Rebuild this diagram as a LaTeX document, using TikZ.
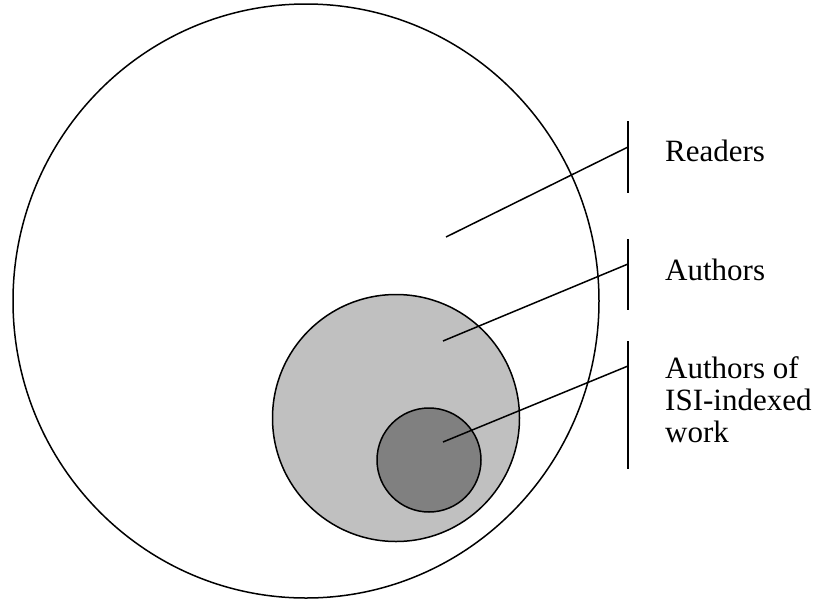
\documentclass[tikz,border=0pt]{standalone}
\usepackage{fontspec}
\setmainfont{Liberation Serif}
\usepackage{tikz}
\usetikzlibrary{shapes.geometric}

\definecolor{authgray}{HTML}{C0C0C0}
\definecolor{isigray}{HTML}{808080}

\begin{document}
\begin{tikzpicture}[
  x=1pt, y=-1pt,
  set/.style={draw, line width=1.5pt, inner sep=0pt},
  lead/.style={line width=1.5pt},
  bar/.style={line width=1.5pt},
  lbl/.style={font=\fontsize{31}{32}\selectfont, inner sep=0pt, align=left}
]
\useasboundingbox (0,0) rectangle (820,598);

% nested sets
\node[set, ellipse, minimum width=586pt, minimum height=594pt] (readers) at (306,301) {};
\node[set, circle, fill=authgray, minimum size=247pt] (authors) at (396,418) {};
\node[set, circle, fill=isigray, minimum size=104pt] (isi) at (429,460) {};

% label brackets
\coordinate (rtop) at (628,121);
\coordinate (rbot) at (628,193);
\coordinate (rjoin) at (628,147);
\coordinate (atop) at (628,239);
\coordinate (abot) at (628,310);
\coordinate (ajoin) at (628,264);
\coordinate (itop) at (628,341);
\coordinate (ibot) at (628,469);
\coordinate (ijoin) at (628,366);

\draw[bar] (rtop) -- (rbot);
\draw[bar] (atop) -- (abot);
\draw[bar] (itop) -- (ibot);

% leaders
\coordinate (rin) at (446,237);
\coordinate (ain) at (443,341);
\coordinate (iin) at (443,442);
\draw[lead] (rin) -- (rjoin);
\draw[lead] (ain) -- (ajoin);
\draw[lead] (iin) -- (ijoin);

% labels
\node[lbl, anchor=base west] (rlbl) at (665,161) {Readers};
\node[lbl, anchor=base west] (albl) at (665,280) {Authors};
\node[lbl, anchor=west] (ilbl) at (665,400) {Authors of\\ISI-indexed\\work};
\end{tikzpicture}
\end{document}
